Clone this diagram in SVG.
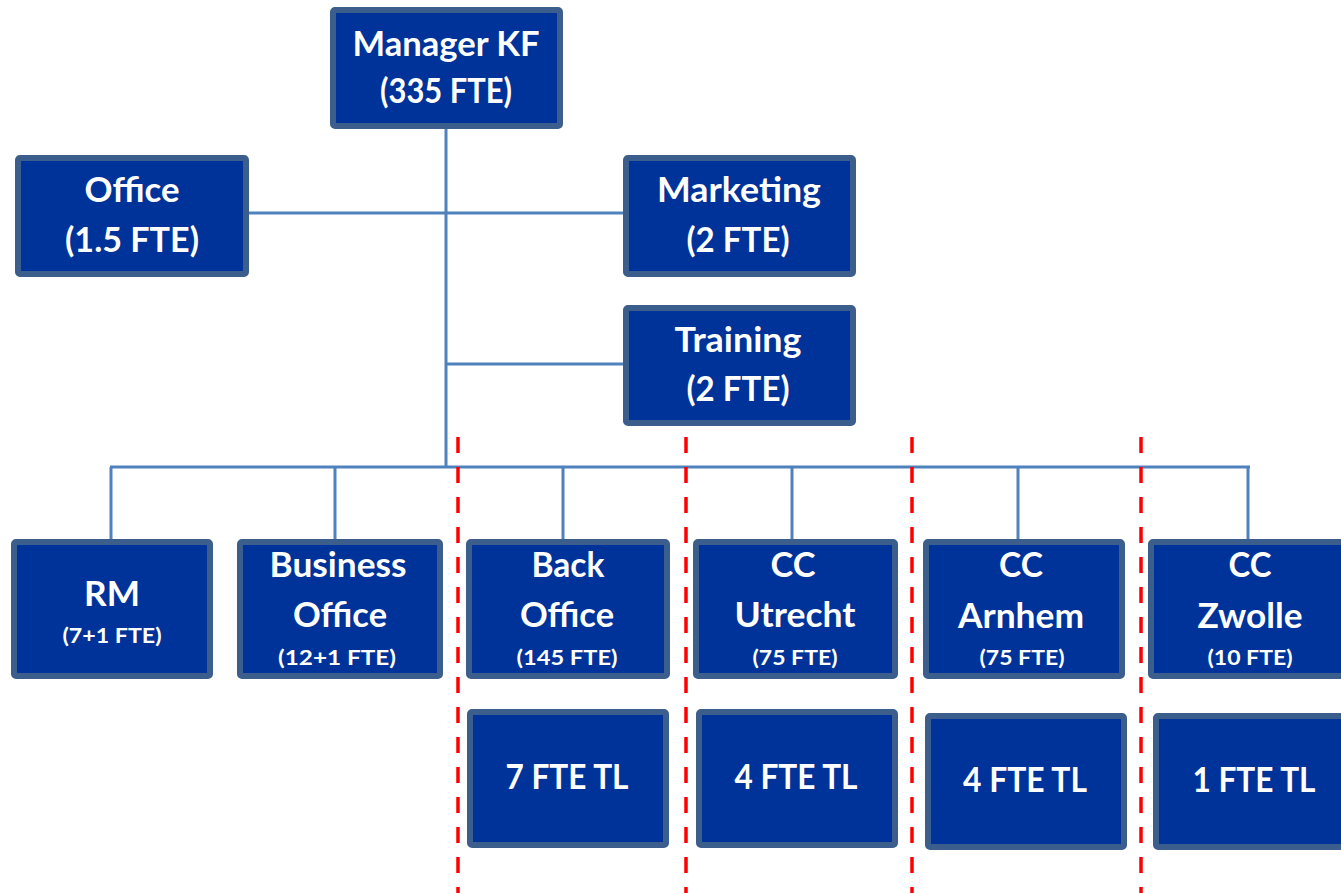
<svg xmlns="http://www.w3.org/2000/svg" width="1341" height="893" viewBox="0 0 1341 893">
<style>
.box{fill:#003399;stroke:#3B5E8D;stroke-width:6}
.t{font-family:Lato,"Liberation Sans",sans-serif;font-weight:bold;fill:#ffffff;text-anchor:middle;font-size:35px}
.s{font-family:Lato,"Liberation Sans",sans-serif;font-weight:bold;fill:#ffffff;text-anchor:middle;font-size:20px}
.c{stroke:#4F81BD;stroke-width:3;fill:none}
.d{stroke:#FF0000;stroke-width:3.5;stroke-dasharray:16 14;fill:none}
</style>
<rect width="1341" height="893" fill="#ffffff"/>
<g id="connectors">
<line class="c" x1="446" y1="128" x2="446" y2="468"/>
<line class="c" x1="248" y1="213" x2="624" y2="213"/>
<line class="c" x1="446" y1="364" x2="624" y2="364"/>
<line class="c" x1="110" y1="467" x2="1250" y2="467"/>
<line class="c" x1="111" y1="467" x2="111" y2="540"/>
<line class="c" x1="335" y1="467" x2="335" y2="540"/>
<line class="c" x1="563" y1="467" x2="563" y2="540"/>
<line class="c" x1="792" y1="467" x2="792" y2="540"/>
<line class="c" x1="1018" y1="467" x2="1018" y2="540"/>
<line class="c" x1="1248" y1="467" x2="1248" y2="540"/>
</g>
<g id="dividers">
<line class="d" x1="458" y1="437" x2="458" y2="893"/>
<line class="d" x1="686" y1="437" x2="686" y2="893"/>
<line class="d" x1="912" y1="437" x2="912" y2="893"/>
<line class="d" x1="1141" y1="437" x2="1141" y2="893"/>
</g>
<g id="manager">
<rect class="box" x="333" y="10" width="227" height="116" rx="2"/>
<text class="t" x="446" y="56" textLength="187" lengthAdjust="spacingAndGlyphs">Manager KF</text>
<text class="t" x="446" y="103" textLength="132" lengthAdjust="spacingAndGlyphs">(335 FTE)</text>
</g>
<g id="office">
<rect class="box" x="18" y="158" width="228" height="116" rx="2"/>
<text class="t" x="132" y="202" textLength="95" lengthAdjust="spacingAndGlyphs">Office</text>
<text class="t" x="132" y="252" textLength="134" lengthAdjust="spacingAndGlyphs">(1.5 FTE)</text>
</g>
<g id="marketing">
<rect class="box" x="626" y="158" width="227" height="116" rx="2"/>
<text class="t" x="739" y="202" textLength="164" lengthAdjust="spacingAndGlyphs">Marketing</text>
<text class="t" x="738" y="252" textLength="103" lengthAdjust="spacingAndGlyphs">(2 FTE)</text>
</g>
<g id="training">
<rect class="box" x="626" y="308" width="227" height="115" rx="2"/>
<text class="t" x="738" y="352" textLength="127" lengthAdjust="spacingAndGlyphs">Training</text>
<text class="t" x="738" y="401" textLength="103" lengthAdjust="spacingAndGlyphs">(2 FTE)</text>
</g>
<g id="rm">
<rect class="box" x="14" y="542" width="196" height="134" rx="2"/>
<text class="t" x="112" y="606" textLength="56" lengthAdjust="spacingAndGlyphs">RM</text>
<text class="s" x="112" y="643" textLength="99" lengthAdjust="spacingAndGlyphs">(7+1 FTE)</text>
</g>
<g id="business-office">
<rect class="box" x="240" y="542" width="200" height="134" rx="2"/>
<text class="t" x="338" y="577" textLength="137" lengthAdjust="spacingAndGlyphs">Business</text>
<text class="t" x="340" y="627" textLength="94" lengthAdjust="spacingAndGlyphs">Office</text>
<text class="s" x="337" y="665" textLength="118" lengthAdjust="spacingAndGlyphs">(12+1 FTE)</text>
</g>
<g id="back-office">
<rect class="box" x="469" y="542" width="198" height="134" rx="2"/>
<text class="t" x="568" y="577" textLength="73" lengthAdjust="spacingAndGlyphs">Back</text>
<text class="t" x="567" y="627" textLength="94" lengthAdjust="spacingAndGlyphs">Office</text>
<text class="s" x="567" y="665" textLength="101" lengthAdjust="spacingAndGlyphs">(145 FTE)</text>
</g>
<g id="cc-utrecht">
<rect class="box" x="696" y="542" width="199" height="134" rx="2"/>
<text class="t" x="793" y="577" textLength="45" lengthAdjust="spacingAndGlyphs">CC</text>
<text class="t" x="795" y="627" textLength="121" lengthAdjust="spacingAndGlyphs">Utrecht</text>
<text class="s" x="795" y="665" textLength="85" lengthAdjust="spacingAndGlyphs">(75 FTE)</text>
</g>
<g id="cc-arnhem">
<rect class="box" x="926" y="542" width="196" height="134" rx="2"/>
<text class="t" x="1021" y="577" textLength="44" lengthAdjust="spacingAndGlyphs">CC</text>
<text class="t" x="1021" y="628" textLength="126" lengthAdjust="spacingAndGlyphs">Arnhem</text>
<text class="s" x="1022" y="665" textLength="85" lengthAdjust="spacingAndGlyphs">(75 FTE)</text>
</g>
<g id="cc-zwolle">
<rect class="box" x="1151" y="542" width="196" height="134" rx="2"/>
<text class="t" x="1250" y="577" textLength="43" lengthAdjust="spacingAndGlyphs">CC</text>
<text class="t" x="1250" y="628" textLength="105" lengthAdjust="spacingAndGlyphs">Zwolle</text>
<text class="s" x="1250" y="665" textLength="85" lengthAdjust="spacingAndGlyphs">(10 FTE)</text>
</g>
<g id="tl-back-office">
<rect class="box" x="470" y="712" width="196" height="133" rx="2"/>
<text class="t" x="567" y="789" textLength="123" lengthAdjust="spacingAndGlyphs">7 FTE TL</text>
</g>
<g id="tl-utrecht">
<rect class="box" x="699" y="712" width="196" height="133" rx="2"/>
<text class="t" x="796" y="789" textLength="123" lengthAdjust="spacingAndGlyphs">4 FTE TL</text>
</g>
<g id="tl-arnhem">
<rect class="box" x="928" y="716" width="196" height="131" rx="2"/>
<text class="t" x="1025" y="792" textLength="124" lengthAdjust="spacingAndGlyphs">4 FTE TL</text>
</g>
<g id="tl-zwolle">
<rect class="box" x="1156" y="716" width="191" height="131" rx="2"/>
<text class="t" x="1254" y="792" textLength="123" lengthAdjust="spacingAndGlyphs">1 FTE TL</text>
</g>
</svg>
